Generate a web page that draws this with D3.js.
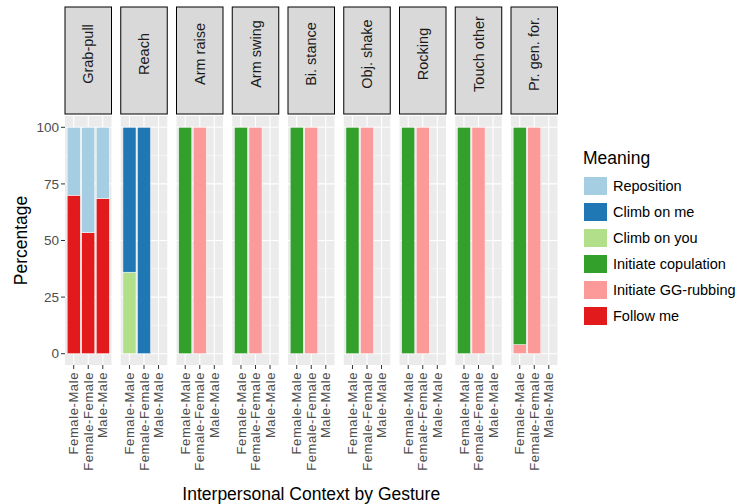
<!DOCTYPE html>
<html>
<head>
<meta charset="utf-8">
<script src="https://d3js.org/d3.v7.min.js"></script>
<style>
  body { margin: 0; background: #fff; }
  text { font-family: "Liberation Sans", Arial, sans-serif; }
</style>
</head>
<body>
<div id="chart"></div>
<script>
// gesture facets, contexts on the x axis, meaning levels (legend order)
var gestures = ["Grab-pull", "Reach", "Arm raise", "Arm swing", "Bi. stance",
                "Obj. shake", "Rocking", "Touch other", "Pr. gen. for."];
var contexts = ["Female-Male", "Female-Female", "Male-Male"];
var meanings = ["Reposition", "Climb on me", "Climb on you",
                "Initiate copulation", "Initiate GG-rubbing", "Follow me"];
var colors = ["#A6CEE3", "#1F78B4", "#B2DF8A", "#33A02C", "#FB9A99", "#E31A1C"];
var yTicks = [0, 25, 50, 75, 100];

// percentage per gesture (rows) and context (columns)
var reposition    = [[30, 46.5, 31.5], [0, 0, 0], [0, 0, 0], [0, 0, 0], [0, 0, 0], [0, 0, 0], [0, 0, 0], [0, 0, 0], [0, 0, 0]];
var climbOnMe     = [[0, 0, 0], [64, 100, 0], [0, 0, 0], [0, 0, 0], [0, 0, 0], [0, 0, 0], [0, 0, 0], [0, 0, 0], [0, 0, 0]];
var climbOnYou    = [[0, 0, 0], [36, 0, 0], [0, 0, 0], [0, 0, 0], [0, 0, 0], [0, 0, 0], [0, 0, 0], [0, 0, 0], [0, 0, 0]];
var copulation    = [[0, 0, 0], [0, 0, 0], [100, 0, 0], [100, 0, 0], [100, 0, 0], [100, 0, 0], [100, 0, 0], [100, 0, 0], [96, 0, 0]];
var ggRubbing     = [[0, 0, 0], [0, 0, 0], [0, 100, 0], [0, 100, 0], [0, 100, 0], [0, 100, 0], [0, 100, 0], [0, 100, 0], [4, 100, 0]];
var followMe      = [[70, 53.5, 68.5], [0, 0, 0], [0, 0, 0], [0, 0, 0], [0, 0, 0], [0, 0, 0], [0, 0, 0], [0, 0, 0], [0, 0, 0]];
var series = [reposition, climbOnMe, climbOnYou, copulation, ggRubbing, followMe];

var W = 738, H = 504;
var panelW = 46.5, panelStep = 55.75, left0 = 65;
var panelTop = 116, panelBot = 365;
var stripTop = 7, stripBot = 114;

var svg = d3.select("#chart").append("svg")
  .attr("width", W).attr("height", H);

var y = d3.scaleLinear().domain([-5, 105]).range([panelBot, panelTop]);
var x = d3.scalePoint().domain(contexts).range([0, panelW]).padding(0.6);
var step = x.step();
var barW = step * 0.9;

var color = d3.scaleOrdinal().domain(meanings).range(colors);
var stackKeys = meanings.slice().reverse();

gestures.forEach(function (g, gi) {
  var gx = left0 + gi * panelStep;
  var p = svg.append("g").attr("transform", "translate(" + gx + ",0)");

  // panel background and grid
  p.append("rect").attr("x", 0).attr("y", panelTop)
    .attr("width", panelW).attr("height", panelBot - panelTop)
    .attr("fill", "#EBEBEB");
  [12.5, 37.5, 62.5, 87.5].forEach(function (v) {
    p.append("line").attr("x1", 0).attr("x2", panelW)
      .attr("y1", y(v)).attr("y2", y(v))
      .attr("stroke", "#fff").attr("stroke-width", 0.5);
  });
  yTicks.forEach(function (v) {
    p.append("line").attr("x1", 0).attr("x2", panelW)
      .attr("y1", y(v)).attr("y2", y(v))
      .attr("stroke", "#fff").attr("stroke-width", 1.1);
  });
  contexts.forEach(function (c) {
    p.append("line").attr("x1", x(c)).attr("x2", x(c))
      .attr("y1", panelTop).attr("y2", panelBot)
      .attr("stroke", "#fff").attr("stroke-width", 1.1);
  });

  // stacked bars, one row per context
  var rows = contexts.map(function (c, ci) {
    var r = { context: c };
    meanings.forEach(function (m, mi) { r[m] = series[mi][gi][ci]; });
    return r;
  });
  var stacked = d3.stack().keys(stackKeys)(rows);
  stacked.forEach(function (layer) {
    p.selectAll(null).data(layer.filter(function (d) { return d[1] - d[0] > 0; }))
      .enter().append("rect")
      .attr("x", function (d) { return x(d.data.context) - barW / 2; })
      .attr("width", barW)
      .attr("y", function (d) { return y(d[1]); })
      .attr("height", function (d) { return y(d[0]) - y(d[1]); })
      .attr("fill", color(layer.key))
      .attr("stroke", "#fff").attr("stroke-width", 0.5);
  });

  // strip
  p.append("rect").attr("x", 0).attr("y", stripTop)
    .attr("width", panelW).attr("height", stripBot - stripTop)
    .attr("fill", "#D9D9D9").attr("stroke", "#000").attr("stroke-width", 1);
  p.append("text")
    .attr("transform", "translate(" + (panelW / 2) + ",54) rotate(-90)")
    .attr("text-anchor", "middle").attr("dy", "0.35em")
    .attr("font-size", "14.5px").attr("fill", "#1A1A1A")
    .text(g);

  // x axis ticks and labels
  contexts.forEach(function (c) {
    p.append("line").attr("x1", x(c)).attr("x2", x(c))
      .attr("y1", panelBot).attr("y2", panelBot + 4)
      .attr("stroke", "#333").attr("stroke-width", 1);
    p.append("text")
      .attr("transform", "translate(" + x(c) + "," + (panelBot + 7) + ") rotate(-90)")
      .attr("text-anchor", "end").attr("dy", "0.35em")
      .attr("font-size", "13px").attr("fill", "#4D4D4D")
      .attr("letter-spacing", "0.6px")
      .text(c);
  });
});

// y axis
yTicks.forEach(function (v) {
  svg.append("line").attr("x1", left0 - 4).attr("x2", left0)
    .attr("y1", y(v)).attr("y2", y(v))
    .attr("stroke", "#333").attr("stroke-width", 1);
  svg.append("text").attr("x", left0 - 6).attr("y", y(v))
    .attr("text-anchor", "end").attr("dy", "0.35em")
    .attr("font-size", "13.5px").attr("fill", "#4D4D4D")
    .text(v);
});

svg.append("text")
  .attr("transform", "translate(21," + ((panelTop + panelBot) / 2) + ") rotate(-90)")
  .attr("text-anchor", "middle").attr("dy", "0.35em")
  .attr("font-size", "17.5px").attr("fill", "#000")
  .text("Percentage");

svg.append("text")
  .attr("x", left0 + (8 * panelStep + panelW) / 2).attr("y", 500)
  .attr("text-anchor", "middle")
  .attr("font-size", "17.5px").attr("fill", "#000")
  .text("Interpersonal Context by Gesture");

// legend
var lg = svg.append("g").attr("transform", "translate(584,0)");
lg.append("text").attr("x", -1).attr("y", 164)
  .attr("font-size", "17.5px").attr("fill", "#000")
  .text("Meaning");
meanings.forEach(function (m, i) {
  lg.append("rect").attr("x", 0).attr("y", 177 + i * 26)
    .attr("width", 23).attr("height", 18)
    .attr("fill", color(m));
  lg.append("text").attr("x", 29).attr("y", 186 + i * 26)
    .attr("dy", "0.35em").attr("font-size", "14.5px").attr("fill", "#000")
    .text(m);
});
</script>
</body>
</html>
